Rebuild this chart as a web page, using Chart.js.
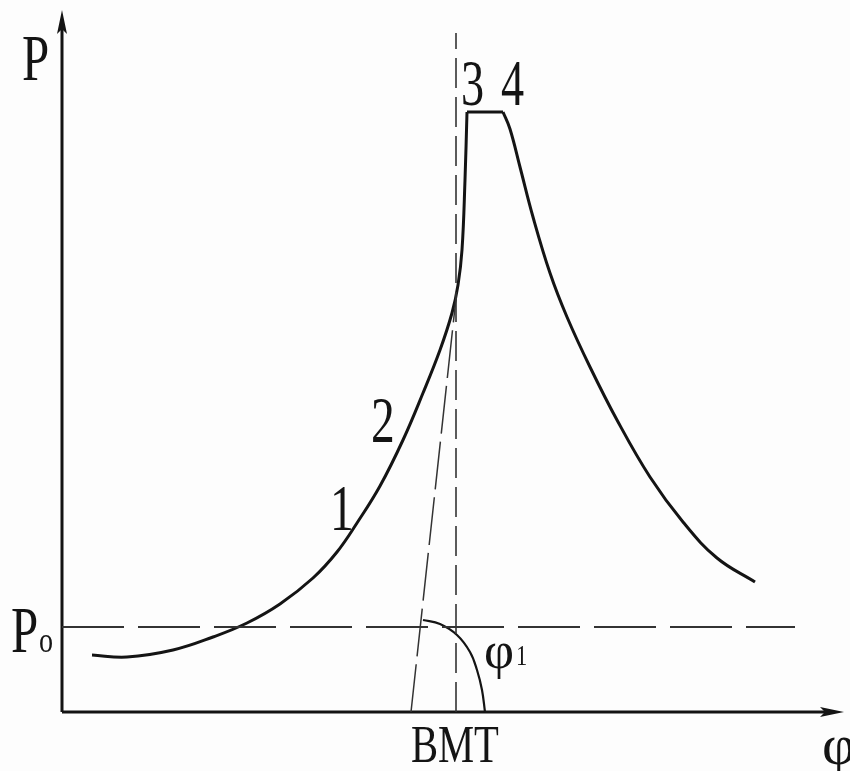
<!DOCTYPE html>
<html>
<head>
<meta charset="utf-8">
<script src="https://cdn.jsdelivr.net/npm/chart.js@4"></script>
<style>
  html, body { margin: 0; padding: 0; background: #fff; }
  #wrap { width: 850px; height: 771px; }
</style>
</head>
<body>
<div id="wrap"><canvas id="myChart"></canvas></div>
<script>
//--------------------- Data ---------------------
// units: x = crank angle (origin at the P axis), y = pressure (origin at the phi axis)

const risingCurve = [
  [30, 57], [65, 55], [111, 62], [151, 75], [185, 89], [218, 108], [251, 134],
  [275, 160], [295, 189], [318, 226], [341, 272], [361, 319], [378, 362],
  [390, 399], [396, 427], [400, 462], [403, 532], [405, 600],
];
const topPlateau = [[405, 600], [441, 600]];
const fallingCurve = [
  [441, 600], [448, 583], [458, 545], [471, 495], [488, 439], [505, 395],
  [528, 345], [555, 292], [588, 235], [621, 190], [655, 154], [693, 130],
];
const p0Line = [[0, 85], [733, 85]];
const tdcLine = [[394, 0], [394, 679]];
const tangentLine = [[349, 0], [394, 414]];
const angleArc = [[361, 92], [378, 88], [395, 77], [408, 60], [415, 42], [420, 22], [423, 0]];
const xAxisLine = [[0, 0], [770, 0]];
const yAxisLine = [[0, 0], [0, 690]];

const labels = [
  { text: "P", x: -40, y: 632, size: 66, sx: 0.74 },
  { text: "3", x: 399, y: 607, size: 66, sx: 0.7 },
  { text: "4", x: 439, y: 607, size: 66, sx: 0.7 },
  { text: "1", x: 268, y: 182, size: 66, sx: 0.72 },
  { text: "2", x: 309, y: 270, size: 66, sx: 0.72 },
  { text: "P", x: -51, y: 60, size: 66, sx: 0.74 },
  { text: "o", x: -23, y: 60, size: 36, sx: 0.78 },
  { text: "φ", x: 422, y: 44, size: 52, sx: 1.0 },
  { text: "1", x: 454, y: 47, size: 30, sx: 0.75 },
  { text: "BMT", x: 349, y: -50, size: 52, sx: 0.78 },
  { text: "φ", x: 760, y: -52, size: 58, sx: 1.0 },
];

//--------------------- Chart ---------------------
const ink = "#141414";
const toXY = (arr) => arr.map(([x, y]) => ({ x, y }));

// narrow arrow head used as point style on the axis ends
function makeArrow() {
  const c = document.createElement("canvas");
  c.width = 12;
  c.height = 24;
  const g = c.getContext("2d");
  g.fillStyle = ink;
  g.beginPath();
  g.moveTo(6, 0);
  g.lineTo(11, 24);
  g.lineTo(6, 19);
  g.lineTo(1, 24);
  g.closePath();
  g.fill();
  return c;
}
const arrow = makeArrow();

function lineSet(data, opts) {
  return Object.assign(
    {
      data: toXY(data),
      showLine: true,
      borderColor: ink,
      borderWidth: 3,
      pointRadius: 0,
      clip: false,
      tension: 0.4,
    },
    opts
  );
}

function axisSet(data, rotation) {
  return lineSet(data, {
    borderWidth: 3,
    tension: 0,
    pointStyle: arrow,
    pointRotation: rotation,
    pointRadius: (ctx) => (ctx.dataIndex === data.length - 1 ? 10 : 0),
    pointBackgroundColor: ink,
  });
}

const bgPlugin = {
  id: "bg",
  beforeDraw(chart) {
    const c = chart.ctx;
    c.save();
    c.fillStyle = "#fdfdfd";
    c.fillRect(0, 0, chart.width, chart.height);
    c.restore();
  },
};

const textPlugin = {
  id: "texts",
  afterDatasetsDraw(chart) {
    const c = chart.ctx;
    const xs = chart.scales.x;
    const ys = chart.scales.y;
    labels.forEach((l) => {
      c.save();
      c.translate(xs.getPixelForValue(l.x), ys.getPixelForValue(l.y));
      c.scale(l.sx, 1);
      c.fillStyle = ink;
      c.font = l.size + "px 'Liberation Serif', 'DejaVu Serif', serif";
      c.textAlign = "left";
      c.textBaseline = "alphabetic";
      c.fillText(l.text, 0, 0);
      c.restore();
    });
  },
};

const ctx = document.getElementById("myChart").getContext("2d");
const myChart = new Chart(ctx, {
  type: "scatter",
  data: {
    datasets: [
      lineSet(p0Line, { borderWidth: 2, borderDash: [62, 14], borderColor: "#333", tension: 0 }),
      lineSet(tdcLine, { borderWidth: 1.6, borderDash: [30, 9], borderColor: "#333", tension: 0 }),
      lineSet(tangentLine, { borderWidth: 1.5, borderDash: [48, 8], borderColor: "#333", tension: 0 }),
      lineSet(angleArc, { borderWidth: 2.2 }),
      lineSet(risingCurve, {}),
      lineSet(topPlateau, { tension: 0 }),
      lineSet(fallingCurve, {}),
      axisSet(xAxisLine, 90),
      axisSet(yAxisLine, 0),
    ],
  },
  options: {
    responsive: true,
    maintainAspectRatio: false,
    animation: false,
    layout: { padding: 0, autoPadding: false },
    plugins: {
      legend: { display: false },
      tooltip: { enabled: false },
    },
    scales: {
      x: { type: "linear", min: -62, max: 788, display: false },
      y: { type: "linear", min: -59, max: 712, display: false },
    },
  },
  plugins: [bgPlugin, textPlugin],
});
</script>
</body>
</html>
